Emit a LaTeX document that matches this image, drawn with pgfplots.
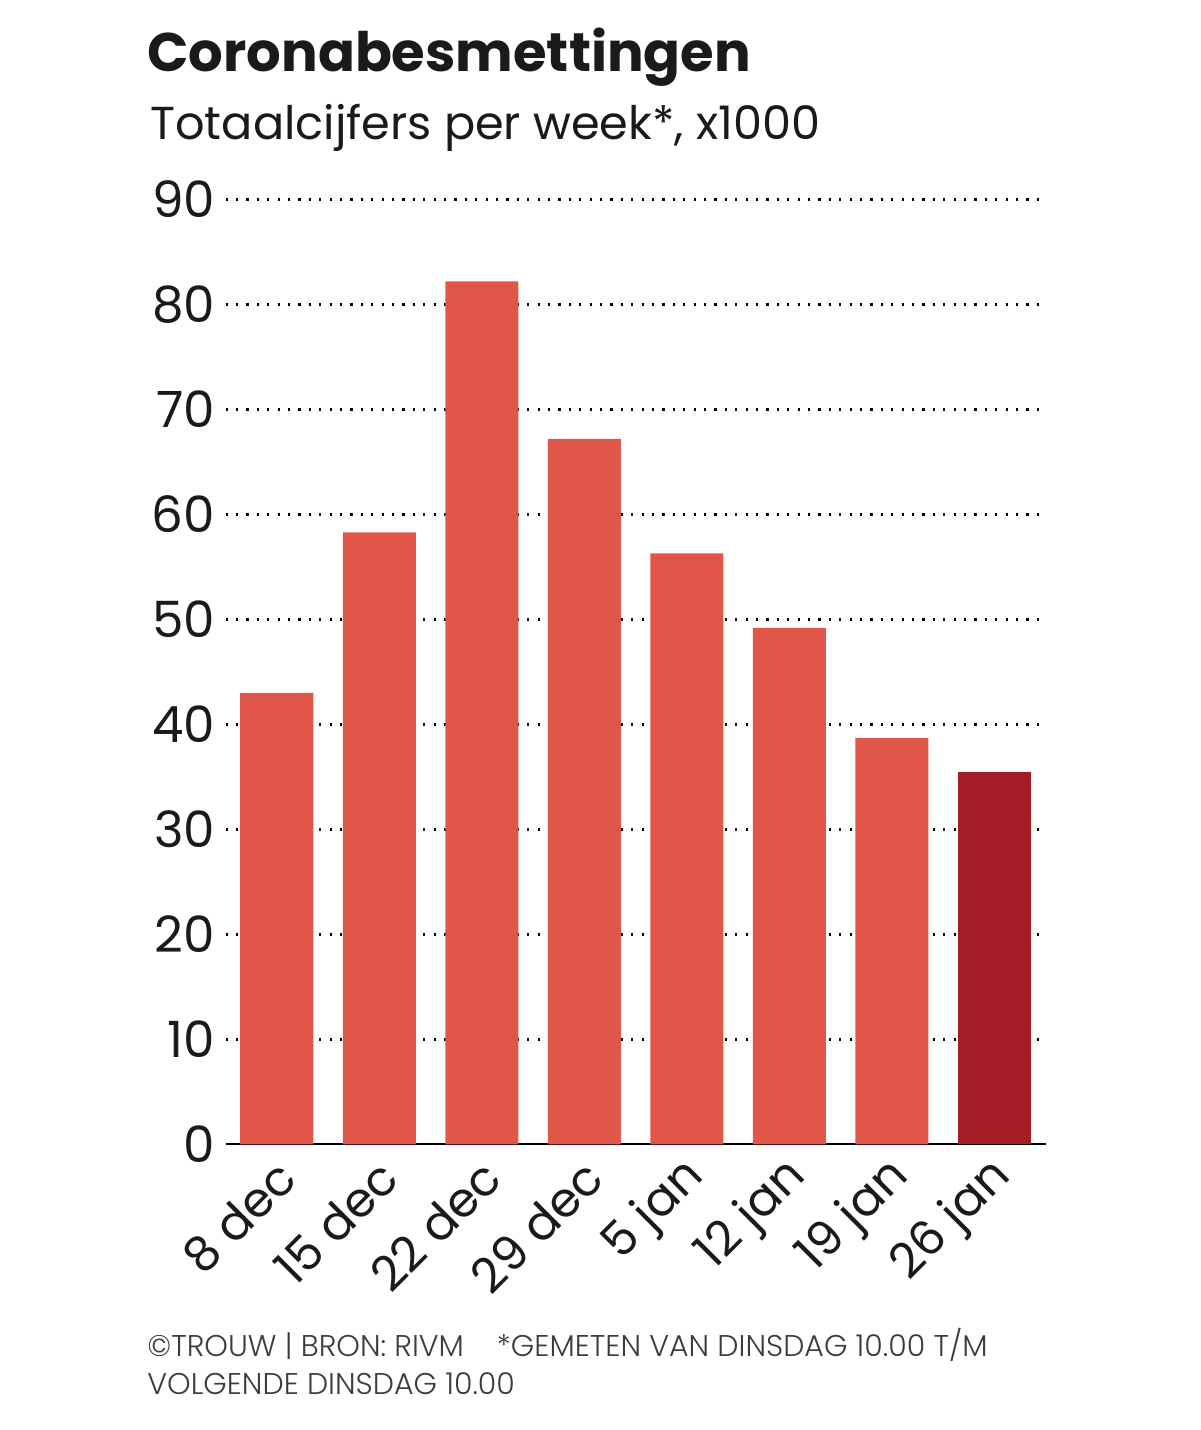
\documentclass[border=0pt]{standalone}
\usepackage{pgfplots}
\pgfplotsset{compat=1.18}
\usepackage{fontspec}
\setmainfont{Poppins}
\newfontfamily\lightfont{Poppins Light}
\definecolor{barred}{HTML}{E05749}
\definecolor{darkred}{HTML}{A51C25}
\definecolor{ink}{HTML}{1A1A1A}
\begin{document}
\begin{tikzpicture}[x=0.5pt,y=0.5pt]
\useasboundingbox (0,0) rectangle (1200,1430);
\node[anchor=base west, inner sep=0pt, text=ink, font=\fontsize{27.2}{30}\selectfont\bfseries] at (147,1358) {Coronabesmettingen};
\node[anchor=base west, inner sep=0pt, text=ink, font=\fontsize{23.1}{28}\selectfont] at (150,1290) {Totaalcijfers per week*, x1000};
\node[anchor=base west, inner sep=0pt, text=ink!85, font=\lightfont\fontsize{15}{18}\selectfont] at (147,73) {©TROUW | BRON: RIVM\hspace{1.1em}*GEMETEN VAN DINSDAG 10.00 T/M};
\node[anchor=base west, inner sep=0pt, text=ink!85, font=\lightfont\fontsize{15}{18}\selectfont] at (147,35) {VOLGENDE DINSDAG 10.00};
\begin{axis}[
  at={(220,272)}, anchor=south west,
  scale only axis, width=410pt, height=472.5pt,
  xmin=-0.5, xmax=7.5, ymin=0, ymax=90,
  ytick={10,20,...,90},
  extra y ticks={0},
  extra y tick style={grid=none},
  xtick={0,...,7},
  xticklabels={8 dec,15 dec,22 dec,29 dec,5 jan,12 jan,19 jan,26 jan},
  major tick length=0pt,
  axis x line*=bottom, axis y line*=left,
  x axis line style={-, line width=1pt, black},
  y axis line style={draw=none},
  ymajorgrids,
  grid style={black, line width=1.15pt, dash pattern=on 1.1pt off 4.1pt},
  yticklabel style={anchor=east, inner sep=0pt, xshift=-5pt, font=\fontsize{25}{28}\selectfont, text=ink},
  xticklabel style={rotate=45, anchor=east, inner sep=0pt, xshift=-5.2pt, yshift=-12.3pt, font=\fontsize{24}{28}\selectfont, text=ink},
  /pgf/number format/assume math mode=true,
  bar width=36.5pt,
]
\addplot[ybar, bar shift=0pt, fill=barred, draw=none] coordinates {(0,43.0) (1,58.3) (2,82.2) (3,67.2) (4,56.3) (5,49.2) (6,38.7)};
\addplot[ybar, bar shift=0pt, fill=darkred, draw=none] coordinates {(7,35.5)};
\end{axis}
\end{tikzpicture}
\end{document}
